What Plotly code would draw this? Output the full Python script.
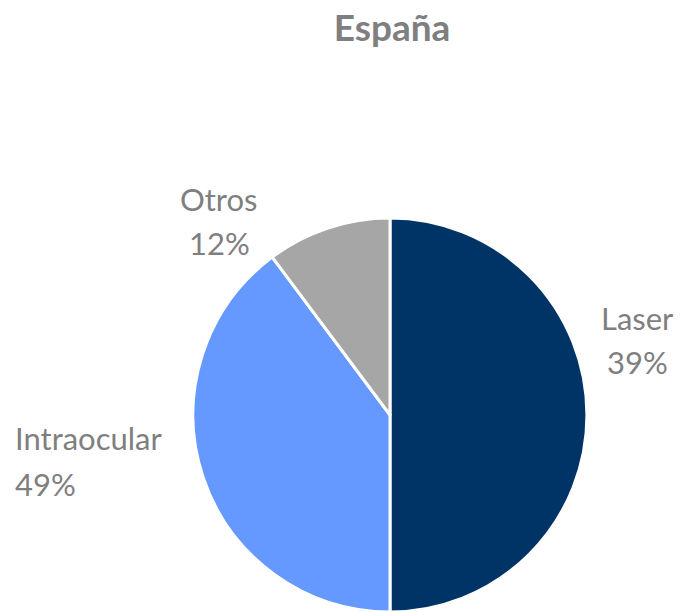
import plotly.graph_objects as go

categories = ["Laser", "Intraocular", "Otros"]
slice_values = [50.0, 39.8, 10.2]
label_percent = ["39%", "49%", "12%"]
colors = ["#003366", "#6699FF", "#A6A6A6"]

W, H = 686, 612
cx, cy, r = 390, 415, 197

fig = go.Figure(go.Pie(
    labels=categories,
    values=slice_values,
    sort=False,
    direction="clockwise",
    rotation=0,
    textinfo="none",
    hoverinfo="label+value",
    marker=dict(colors=colors, line=dict(color="white", width=3)),
    domain=dict(x=[(cx - r) / W, (cx + r) / W], y=[(H - cy - r) / H, (H - cy + r) / H]),
    showlegend=False,
))

FONT = "Lato, Open Sans, sans-serif"
font = dict(family=FONT, size=31, color="#7F7F7F")
# (x, y_name, y_pct, anchor)
ann_pos = [(637, 316, 360, "center"), (13, 436, 482, "left"), (219, 197, 241, "center")]
annotations = []
for (x, y1, y2, al), c, p in zip(ann_pos, categories, label_percent):
    for y, t in ((y1, c), (y2, p)):
        annotations.append(dict(
            x=x / W, y=1 - (y + 2) / H, xref="paper", yref="paper",
            xanchor=al, yanchor="middle", align=al,
            text=t, showarrow=False, font=font,
        ))

fig.update_layout(
    width=W, height=H,
    margin=dict(l=0, r=0, t=0, b=0),
    paper_bgcolor="white",
    plot_bgcolor="white",
    title=dict(
        text="<b>España</b>", x=392 / W, xanchor="center", y=1 - 28 / H, yanchor="middle",
        font=dict(family=FONT, size=37, color="#7F7F7F"),
    ),
    annotations=annotations,
)

fig.write_html("out.html", config={"displayModeBar": False},
               post_script="document.body.style.margin='0px';")
